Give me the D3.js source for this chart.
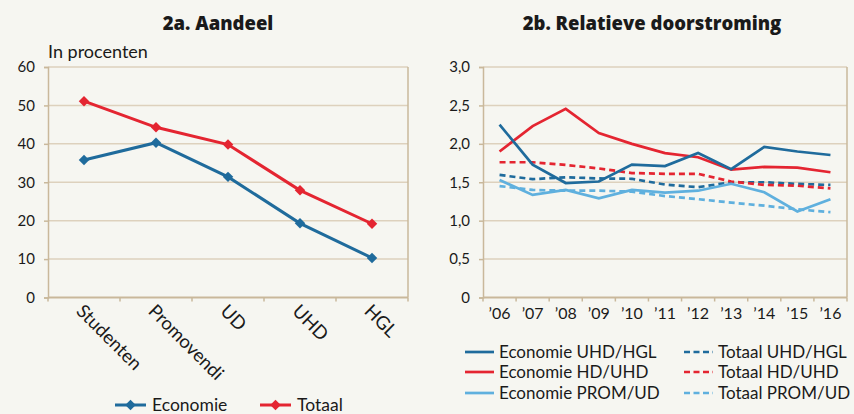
<!DOCTYPE html>
<html>
<head>
<meta charset="utf-8">
<script src="https://cdn.jsdelivr.net/npm/d3@7"></script>
<style>
  body { margin: 0; background: #f6f6f1; }
  svg { display: block; font-family: Lato, "Open Sans", sans-serif; }
</style>
</head>
<body>
<svg id="chart" width="854" height="414"></svg>
<script>
// 2a. Aandeel
const categories = ["Studenten", "Promovendi", "UD", "UHD", "HGL"];
const economieShare = [35.8, 40.3, 31.4, 19.3, 10.3];
const totaalShare = [51.1, 44.3, 39.8, 27.9, 19.2];
const shareTicks = [0, 10, 20, 30, 40, 50, 60];

// 2b. Relatieve doorstroming
const years = ["’06", "’07", "’08", "’09", "’10", "’11", "’12", "’13", "’14", "’15", "’16"];
const ecoUhdHgl = [2.25, 1.73, 1.49, 1.51, 1.73, 1.71, 1.88, 1.67, 1.96, 1.90, 1.855];
const ecoHdUhd = [1.90, 2.23, 2.455, 2.14, 2.00, 1.88, 1.825, 1.665, 1.70, 1.69, 1.63];
const ecoPromUd = [1.53, 1.335, 1.40, 1.29, 1.40, 1.365, 1.39, 1.48, 1.37, 1.12, 1.28];
const totUhdHgl = [1.595, 1.54, 1.565, 1.55, 1.545, 1.47, 1.435, 1.50, 1.50, 1.478, 1.465];
const totHdUhd = [1.76, 1.76, 1.725, 1.68, 1.62, 1.61, 1.61, 1.51, 1.465, 1.455, 1.42];
const totPromUd = [1.45, 1.40, 1.39, 1.39, 1.378, 1.32, 1.28, 1.235, 1.195, 1.148, 1.11];
const ratioTicks = [0, 0.5, 1.0, 1.5, 2.0, 2.5, 3.0];

const darkBlue = "#1f6b9c", red = "#e42531", lightBlue = "#5fb0de";
const gridColor = "#ddd1bd", axisColor = "#c9b89b", textColor = "#1a1a1a";
const titleFont = "'Open Sans', Lato, sans-serif";

const svg = d3.select("#chart");

// ---------- left panel ----------
const y1 = d3.scaleLinear().domain([0, 60]).range([297.5, 67]);
const x1 = d3.scaleBand().domain(categories).range([48, 408]);

const left = svg.append("g");

left.append("text")
  .attr("x", 218).attr("y", 30)
  .attr("text-anchor", "middle")
  .attr("font-family", titleFont)
  .attr("font-size", 18.5).attr("font-weight", 800)
  .attr("fill", textColor)
  .text("2a. Aandeel");

left.append("text")
  .attr("x", 48).attr("y", 58)
  .attr("font-size", 18)
  .attr("fill", textColor)
  .text("In procenten");

// gridlines
left.append("g").selectAll("line")
  .data(shareTicks.slice(1))
  .enter().append("line")
  .attr("x1", 48).attr("x2", 408)
  .attr("y1", d => y1(d)).attr("y2", d => y1(d))
  .attr("stroke", gridColor).attr("stroke-width", 1.5);

// y axis
const yAxis1 = left.append("g")
  .attr("transform", "translate(48,0)")
  .call(d3.axisLeft(y1).tickValues(shareTicks).tickSize(4).tickPadding(9));
// right border
left.append("line")
  .attr("x1", 408).attr("x2", 408)
  .attr("y1", y1(60)).attr("y2", y1(0))
  .attr("stroke", axisColor).attr("stroke-width", 1.5);

// x axis with ticks on band edges
const xAxis1 = left.append("g").attr("transform", `translate(0,${y1(0)})`);
xAxis1.append("line")
  .attr("x1", 48).attr("x2", 408)
  .attr("stroke", axisColor).attr("stroke-width", 2);
xAxis1.selectAll("line.tick")
  .data(categories.concat(["end"]))
  .enter().append("line")
  .attr("class", "tick")
  .attr("x1", (d, i) => 48 + i * x1.step()).attr("x2", (d, i) => 48 + i * x1.step())
  .attr("y1", 0).attr("y2", 4)
  .attr("stroke", axisColor).attr("stroke-width", 1.5);
xAxis1.selectAll("text")
  .data(categories)
  .enter().append("text")
  .attr("transform", d => `translate(${x1(d) + x1.bandwidth() / 2 + 1},${5}) rotate(45)`)
  .attr("dy", "0.75em")
  .attr("font-size", 18.5)
  .attr("fill", textColor)
  .text(d => d);

[yAxis1].forEach(ax => {
  ax.select(".domain").attr("stroke", axisColor).attr("stroke-width", 1.5);
  ax.selectAll(".tick line").attr("stroke", axisColor).attr("stroke-width", 1.5);
  ax.selectAll(".tick text").attr("font-size", 15).attr("fill", textColor)
    .attr("font-family", "Lato, sans-serif");
});

const line1 = d3.line()
  .x((d, i) => x1(categories[i]) + x1.bandwidth() / 2)
  .y(d => y1(d));

const diamond = d3.symbol().type(d3.symbolDiamond2).size(70);

[[economieShare, darkBlue], [totaalShare, red]].forEach(([vals, color]) => {
  left.append("path")
    .attr("d", line1(vals))
    .attr("fill", "none").attr("stroke", color).attr("stroke-width", 3);
  left.append("g").selectAll("path")
    .data(vals)
    .enter().append("path")
    .attr("d", diamond)
    .attr("transform", (d, i) => `translate(${x1(categories[i]) + x1.bandwidth() / 2},${y1(d)})`)
    .attr("fill", color);
});

// legend left
const legend1 = [["Economie", darkBlue, 115], ["Totaal", red, 260]];
legend1.forEach(([name, color, lx]) => {
  const g = left.append("g").attr("transform", `translate(${lx},405)`);
  g.append("line").attr("x1", 0).attr("x2", 31)
    .attr("stroke", color).attr("stroke-width", 3);
  g.append("path").attr("d", diamond).attr("transform", "translate(15.5,0)").attr("fill", color);
  g.append("text").attr("x", 37).attr("y", 6)
    .attr("font-size", 17.5).attr("fill", textColor).text(name);
});

// ---------- right panel ----------
const y2 = d3.scaleLinear().domain([0, 3]).range([297.5, 67]);
const x2 = d3.scaleBand().domain(years).range([483, 847]);

const right = svg.append("g");

right.append("text")
  .attr("x", 652).attr("y", 30)
  .attr("text-anchor", "middle")
  .attr("font-family", titleFont)
  .attr("font-size", 18.5).attr("font-weight", 800)
  .attr("fill", textColor)
  .text("2b. Relatieve doorstroming");

right.append("g").selectAll("line")
  .data(ratioTicks.slice(1))
  .enter().append("line")
  .attr("x1", 483).attr("x2", 847)
  .attr("y1", d => y2(d)).attr("y2", d => y2(d))
  .attr("stroke", gridColor).attr("stroke-width", 1.5);

const fmtComma = d => d === 0 ? "0" : d3.format(".1f")(d).replace(".", ",");
const yAxis2 = right.append("g")
  .attr("transform", "translate(483,0)")
  .call(d3.axisLeft(y2).tickValues(ratioTicks).tickFormat(fmtComma).tickSize(4).tickPadding(9));
yAxis2.select(".domain").attr("stroke", axisColor).attr("stroke-width", 1.5);
yAxis2.selectAll(".tick line").attr("stroke", axisColor).attr("stroke-width", 1.5);
yAxis2.selectAll(".tick text").attr("font-size", 15).attr("fill", textColor)
  .attr("font-family", "Lato, sans-serif");

right.append("line")
  .attr("x1", 847).attr("x2", 847)
  .attr("y1", y2(3)).attr("y2", y2(0))
  .attr("stroke", axisColor).attr("stroke-width", 1.5);

const xAxis2 = right.append("g").attr("transform", `translate(0,${y2(0)})`);
xAxis2.append("line")
  .attr("x1", 483).attr("x2", 847)
  .attr("stroke", axisColor).attr("stroke-width", 2);
xAxis2.selectAll("line.tick")
  .data(years.concat(["end"]))
  .enter().append("line")
  .attr("class", "tick")
  .attr("x1", (d, i) => 483 + i * x2.step()).attr("x2", (d, i) => 483 + i * x2.step())
  .attr("y1", 0).attr("y2", 4)
  .attr("stroke", axisColor).attr("stroke-width", 1.5);
xAxis2.selectAll("text")
  .data(years)
  .enter().append("text")
  .attr("x", d => x2(d) + x2.bandwidth() / 2)
  .attr("y", 21)
  .attr("text-anchor", "middle")
  .attr("font-size", 16)
  .attr("fill", textColor)
  .text(d => d);

const line2 = d3.line()
  .x((d, i) => x2(years[i]) + x2.bandwidth() / 2)
  .y(d => y2(d));

const series2 = [
  { name: "Economie UHD/HGL", values: ecoUhdHgl, color: darkBlue, dash: null },
  { name: "Economie HD/UHD", values: ecoHdUhd, color: red, dash: null },
  { name: "Economie PROM/UD", values: ecoPromUd, color: lightBlue, dash: null },
  { name: "Totaal UHD/HGL", values: totUhdHgl, color: darkBlue, dash: "6,4" },
  { name: "Totaal HD/UHD", values: totHdUhd, color: red, dash: "6,4" },
  { name: "Totaal PROM/UD", values: totPromUd, color: lightBlue, dash: "6,4" }
];

// draw dashed ones first, solids on top
[3, 4, 5, 2, 1, 0].forEach(i => {
  const s = series2[i];
  right.append("path")
    .attr("d", line2(s.values))
    .attr("fill", "none")
    .attr("stroke", s.color)
    .attr("stroke-width", 2.7)
    .attr("stroke-dasharray", s.dash);
});

// legend right
series2.forEach((s, i) => {
  const col = Math.floor(i / 3), row = i % 3;
  const g = right.append("g")
    .attr("transform", `translate(${col === 0 ? 465 : 684},${[352, 372, 393][row]})`);
  g.append("line").attr("x1", 0).attr("x2", 29)
    .attr("stroke", s.color).attr("stroke-width", 2.7)
    .attr("stroke-dasharray", s.dash ? "6,3.5" : null);
  g.append("text").attr("x", 34).attr("y", 6)
    .attr("font-size", 17).attr("fill", textColor).text(s.name);
});
</script>
</body>
</html>
